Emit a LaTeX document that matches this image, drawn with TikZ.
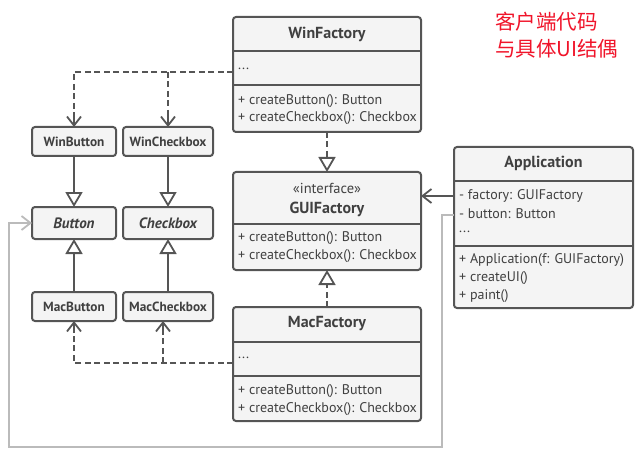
\documentclass[tikz,border=0pt]{standalone}
\usepackage{fontspec}
\setmainfont{PT Sans}
\newfontfamily\cjk{Noto Sans CJK SC}
\usetikzlibrary{arrows.meta}
\definecolor{boxfill}{HTML}{F4F4F4}
\definecolor{boxline}{HTML}{555555}
\definecolor{txt}{HTML}{404040}
\definecolor{lightl}{HTML}{BBBBBB}
\definecolor{redt}{HTML}{F0142A}
\begin{document}
\begin{tikzpicture}[x=1pt,y=-1pt,
  umlbox/.style={draw=boxline, fill=boxfill, line width=2pt, rounded corners=3pt, inner sep=0pt, outer sep=0pt},
  small/.style={umlbox, minimum width=84pt, minimum height=29pt, font=\bfseries\fontsize{13.3}{15}\selectfont, text=txt},
  divl/.style={draw=boxline, line width=2pt},
  ttl/.style={font=\bfseries\fontsize{16}{18}\selectfont, text=txt, inner sep=0pt},
  mem/.style={font=\fontsize{14}{16}\selectfont, text=txt, anchor=west, inner sep=0pt},
  dep/.style={draw=boxline, line width=2pt, dash pattern=on 6pt off 3.5pt},
  tri/.style={-{Triangle[open, length=15pt, width=17pt, line width=1.8pt]}},
  inh/.style={draw=boxline, line width=2pt, tri},
  vee/.style={-{Straight Barb[length=9pt, width=14pt, line width=1.8pt]}},
]
\useasboundingbox (0,0) rectangle (641,452);

% ---------- small boxes
\node[small, minimum width=84pt] (wbtn) at (74,141.5) {WinButton};
\node[small, minimum width=90pt] (wchk) at (168,141.5) {WinCheckbox};
\node[small, minimum height=32pt, font=\bfseries\itshape\fontsize{15}{17}\selectfont] (btn) at (74,223) {Button};
\node[small, minimum width=90pt, minimum height=32pt, font=\bfseries\itshape\fontsize{15}{17}\selectfont] (chk) at (168,223) {Checkbox};
\node[small] (mbtn) at (74,306.5) {MacButton};
\node[small, minimum width=90pt] (mchk) at (168,306.5) {MacCheckbox};

% ---------- WinFactory
\node[umlbox, minimum width=188pt, minimum height=115pt] (win) at (327,74.5) {};
\draw[divl] (win.west |- 0,51) -- (win.east |- 0,51);
\draw[divl] (win.west |- 0,85) -- (win.east |- 0,85);
\node[ttl] (wint) at (327,34) {WinFactory};
\node[mem] (wina) at (238,69) {...};
\node[mem] (winm1) at (238,101) {+ createButton(): Button};
\node[mem] (winm2) at (238,118.5) {+ createCheckbox(): Checkbox};

% ---------- GUIFactory
\node[umlbox, minimum width=188pt, minimum height=98pt] (gui) at (327,221) {};
\draw[divl] (gui.west |- 0,224) -- (gui.east |- 0,224);
\node[font=\fontsize{14.5}{16}\selectfont, text=txt, inner sep=0pt] (guis) at (327,188) {«interface»};
\node[ttl] (guit) at (327,209) {GUIFactory};
\node[mem] (guim1) at (238,238.5) {+ createButton(): Button};
\node[mem] (guim2) at (238,256.5) {+ createCheckbox(): Checkbox};

% ---------- MacFactory
\node[umlbox, minimum width=188pt, minimum height=114pt] (mac) at (327,364) {};
\draw[divl] (mac.west |- 0,342) -- (mac.east |- 0,342);
\draw[divl] (mac.west |- 0,376) -- (mac.east |- 0,376);
\node[ttl] (mact) at (327,324) {MacFactory};
\node[mem] (maca) at (238,358) {...};
\node[mem] (macm1) at (238,391) {+ createButton(): Button};
\node[mem] (macm2) at (238,409) {+ createCheckbox(): Checkbox};

% ---------- Application
\node[umlbox, minimum width=179pt, minimum height=161pt] (app) at (543.5,227.5) {};
\draw[divl] (app.west |- 0,181) -- (app.east |- 0,181);
\draw[divl] (app.west |- 0,246) -- (app.east |- 0,246);
\node[ttl] (appt) at (543.5,163) {Application};
\node[mem] (appa1) at (459,196) {- factory: GUIFactory};
\node[mem] (appa2) at (459,214) {- button: Button};
\node[mem] (appa3) at (459,232) {...};
\node[mem] (appm1) at (459,260) {+ Application(f: GUIFactory)};
\node[mem] (appm2) at (459,278) {+ createUI()};
\node[mem] (appm3) at (459,296) {+ paint()};

% ---------- red note
\node[text=redt, font=\cjk\fontsize{20.5}{27}\selectfont, align=left, anchor=north west, inner sep=0pt] (note) at (495,11.5) {客户端代码\\与具体UI结偶};

% ---------- connectors
\coordinate (wj) at (wchk.north |- 0,72);
\draw[dep] (win.west |- 0,72) -| (wbtn.north);
\draw[dep] (wj) -- (wchk.north);
\path (wbtn.north) ++(0,-12) coordinate (wbh);
\draw[draw=boxline, line width=2pt, vee] (wbh) -- (wbtn.north);
\path (wchk.north) ++(0,-12) coordinate (wch);
\draw[draw=boxline, line width=2pt, vee] (wch) -- (wchk.north);

\coordinate (mj) at (163,363);
\draw[dep] (mac.west |- 0,363) -| (mbtn.south);
\draw[dep] (mj) -- (mj |- mchk.south);
\path (mbtn.south) ++(0,12) coordinate (mbh);
\draw[draw=boxline, line width=2pt, vee] (mbh) -- (mbtn.south);
\path (mj |- mchk.south) ++(0,12) coordinate (mch);
\draw[draw=boxline, line width=2pt, vee] (mch) -- (mj |- mchk.south);

\draw[inh] (wbtn.south) -- (btn.north);
\draw[inh] (wchk.south) -- (chk.north);
\draw[inh] (mbtn.north) -- (btn.south);
\draw[inh] (mchk.north) -- (chk.south);

\draw[dep, tri] (win.south) -- (gui.north);
\draw[dep, tri] (mac.north) -- (gui.south);

\draw[draw=boxline, line width=2pt, vee] (app.west |- 0,196) -- (gui.east |- 0,196);

\draw[draw=lightl, line width=1.6pt, vee] (app.west |- 0,215) -- (442,215) -- (442,447) -- (9,447) -- (9,223) -- (btn.west);
\end{tikzpicture}
\end{document}
